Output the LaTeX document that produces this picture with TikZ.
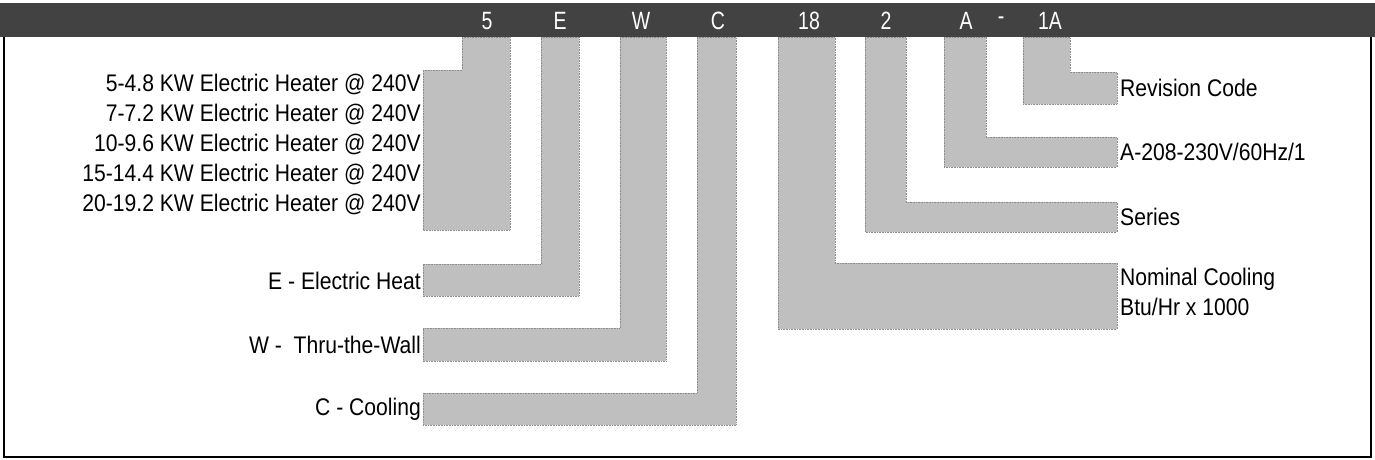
\documentclass[tikz,border=0pt]{standalone}
\usepackage{fontspec}
\setmainfont{Liberation Sans}[FakeStretch=0.88]
\newfontfamily\hdrfont{Liberation Sans}[FakeStretch=0.78]
\begin{document}
\begin{tikzpicture}[x=1pt,y=-1pt,
  blk/.style={fill=black!25, draw=black!45, line width=0.6pt, densely dotted},
  hdr/.style={text=white, font=\hdrfont\fontsize{25}{25}\selectfont, anchor=center, inner sep=0pt},
  lbl/.style={font=\fontsize{24}{30}\selectfont, inner sep=0pt},
  lbll/.style={lbl, anchor=east},
  lblr/.style={lbl, anchor=west, align=left},
  frm/.style={line width=2pt}]
\useasboundingbox (0,0) rectangle (1375,459);
% header bar
\fill[black!74] (0,3) rectangle (1375,37);
\draw[frm] (4,37) -- (4,457) -- (1371,457) -- (1371,37);
% blocks
\filldraw[blk] (462,37) -- (510,37) -- (510,230) -- (423,230) -- (423,70) -- (462,70) -- cycle;
\filldraw[blk] (541,37) -- (579,37) -- (579,296) -- (423,296) -- (423,264) -- (541,264) -- cycle;
\filldraw[blk] (620,37) -- (666,37) -- (666,361) -- (423,361) -- (423,328) -- (620,328) -- cycle;
\filldraw[blk] (697,37) -- (736,37) -- (736,425) -- (423,425) -- (423,393) -- (697,393) -- cycle;
\filldraw[blk] (778,37) -- (835,37) -- (835,263) -- (1117,263) -- (1117,329) -- (778,329) -- cycle;
\filldraw[blk] (865,37) -- (906,37) -- (906,202) -- (1117,202) -- (1117,232) -- (865,232) -- cycle;
\filldraw[blk] (944,37) -- (986,37) -- (986,137) -- (1117,137) -- (1117,167) -- (944,167) -- cycle;
\filldraw[blk] (1023,37) -- (1070,37) -- (1070,72) -- (1117,72) -- (1117,104) -- (1023,104) -- cycle;
% header letters
\node[hdr] (h5) at (487,21) {5};
\node[hdr] (hE) at (560,21) {E};
\node[hdr] (hW) at (641,21) {W};
\node[hdr] (hC) at (718,21) {C};
\node[hdr] (h18) at (809,21) {18};
\node[hdr] (h2) at (886,21) {2};
\node[hdr] (hA) at (966,21) {A};
\node[hdr] (hd) at (1001,21) {-};
\node[hdr] (h1A) at (1050,21) {1A};
% left labels
\node[lbll] (l1) at (421,84) {5-4.8 KW Electric Heater @ 240V};
\node[lbll] (l2) at (421,114) {7-7.2 KW Electric Heater @ 240V};
\node[lbll] (l3) at (421,144) {10-9.6 KW Electric Heater @ 240V};
\node[lbll] (l4) at (421,174) {15-14.4 KW Electric Heater @ 240V};
\node[lbll] (l5) at (421,204) {20-19.2 KW Electric Heater @ 240V};
\node[lbll] (lE) at (421,281) {E - Electric Heat};
\node[lbll] (lW) at (421,345) {W -\ \ Thru-the-Wall};
\node[lbll] (lC) at (421,409) {C - Cooling};
% right labels
\node[lblr] (rR) at (1120,88) {Revision Code};
\node[lblr] (rA) at (1120,152) {A-208-230V/60Hz/1};
\node[lblr] (rS) at (1120,217) {Series};
\node[lblr] (rN) at (1120,292) {Nominal Cooling\\Btu/Hr x 1000};
\end{tikzpicture}
\end{document}
